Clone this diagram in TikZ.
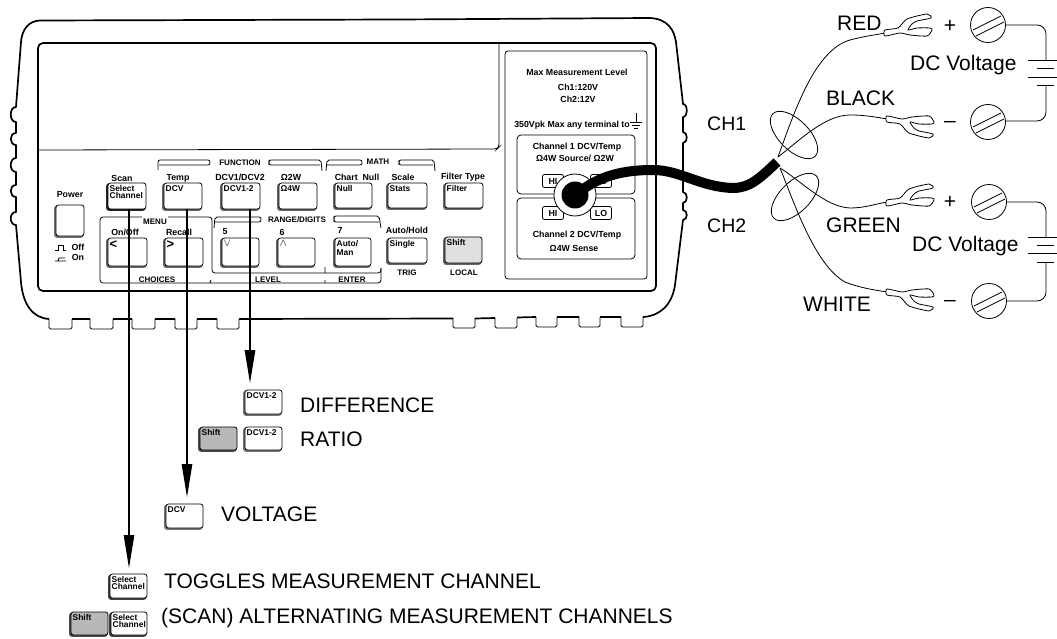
\documentclass[tikz,border=0pt]{standalone}
\usepackage{fontspec}
\setmainfont{Liberation Sans}
\usetikzlibrary{arrows.meta,calc}
\newcommand{\fs}[1]{\fontsize{#1}{#1}\selectfont}
\tikzset{
  big/.style={font=\fs{21},inner sep=0,anchor=west},
  chlab/.style={font=\fs{19.5},inner sep=0,anchor=west},
  sm/.style={font=\fs{8.8}\bfseries,inner sep=0,align=center},
  hd/.style={font=\fs{8}\bfseries,inner sep=0,align=center},
  heavy/.style={line width=1.7},
  thin1/.style={line width=.8},
  keyface/.style={draw=black,line width=.8,rounded corners=2.5,fill=white,inner sep=0},
  keytext/.style={inner sep=0,align=left,anchor=north west,font=\fs{8.4}\bfseries},
  jack/.style={draw=black,thin1,rounded corners=2,minimum width=21,minimum height=13,inner sep=0,sm},
  arr/.style={line width=1.1,-{Triangle[length=33,width=10.5]}},
  pics/lug/.style={code={\draw[thin1,fill=white] plot[smooth cycle,tension=.4] coordinates
    {(0,-3)(13,-5)(22,-14)(42,-19)(46,-15)(32,-12)(27,-9)(23,-3)(32,-5)(45,-5)(47,-3)(42,3)(25,2)(15,0)(0,3)};}},
  pics/screw/.style={code={\draw[thin1,fill=white] (0,0) circle[radius=17.5];
    \draw[thin1] (-15,5)--(13,-9) (-12,11)--(16,-3);}}
}
% name x1 y1 x2 y2 text shadow-fill face-fill text-style
\newcommand{\keycap}[9]{%
  \fill[#7,rounded corners=2.5] (#2-1.8,#3+.5) rectangle (#4-.5,#5+1.8);
  \node[keyface,fill=#8,minimum width={(#4-#2)*1pt},minimum height={(#5-#3)*1pt}] (#1) at ({(#2+#4)/2},{(#3+#5)/2}) {};
  \node[#9] (#1t) at (#2+1.5,#3+2) {#6};}
\begin{document}
\begin{tikzpicture}[x=1pt,y=-1pt]
\useasboundingbox (0,0) rectangle (1057,639);
\fill[white] (0,0) rectangle (1057,639);
% outer body
\draw[heavy,line join=round] (40,20.5) -- (400,19.5) -- (650,18) .. controls (668,19) and (674,30) .. (676,42)
 -- (683,104)
 .. controls (688,104) and (688,117) .. (683,117) -- (683,132)
 .. controls (688,132) and (688,143) .. (683,143) -- (683,192)
 .. controls (688,192) and (688,203) .. (683,203) -- (683,210)
 .. controls (688,210) and (688,220) .. (683,220) -- (675,285)
 .. controls (672,305) and (660,316) .. (643,317);
\draw[heavy,line join=round] (40,20.5) .. controls (28,21) and (22,30) .. (21,42) -- (16,107)
 .. controls (9,107) and (9,122) .. (16,122) -- (16,133)
 .. controls (9,133) and (9,145) .. (16,145) -- (16,158)
 .. controls (9,158) and (9,172) .. (16,172) -- (16,185)
 .. controls (9,185) and (9,197) .. (16,197) -- (16,212)
 .. controls (9,212) and (9,225) .. (16,225) -- (21,282)
 .. controls (23,305) and (33,318) .. (49,319);
% feet
\draw[heavy] (72,319)--(90,319) (113,319)--(132,319) (155,319)--(175,319) (197,319)--(217,319) (239,319)--(453,318.5)
 (475,318.5)--(495,318) (517,317.5)--(536,317) (557,317)--(579,317) (600,317)--(621,317);
\foreach \a/\b/\c in {49/72/329,90/113/329,132/155/329,175/197/329,217/239/329,453/475/328,495/517/328,536/557/327,579/600/327,621/643/327}
  \draw[thin1,rounded corners=1.5] (\a,\c-10)--(\a,\c)--(\b,\c)--(\b,\c-10);
% inner bezel
\draw[heavy,rounded corners=5] (38,43) rectangle (656,291);
\draw[thin1,rounded corners=3] (38,150) -- (497,149) -- (499,147) -- (499,43);
% right panel
\draw[thin1,rounded corners=3] (505,51) rectangle (647,279);
\node[sm] (t1) at (577,72) {Max Measurement Level};
\node[sm] (t2) at (578,87) {Ch1:120V};
\node[sm] (t3) at (578,99) {Ch2:12V};
\node[sm] (t4) at (572,125) {350Vpk Max any terminal to};
\draw[thin1] (636,113)--(636,122) (630,122)--(642,122) (632,125)--(640,125) (634,128)--(638,128);
\draw[thin1,rounded corners=4] (517,135) rectangle (635,194);
\draw[thin1,rounded corners=4] (517,198) rectangle (635,259);
\node[sm] (t5) at (577,147) {Channel 1 DCV/Temp};
\node[sm] (t6) at (575,158) {Ω4W Source/ Ω2W};
\node[sm] (t7) at (577,235) {Channel 2 DCV/Temp};
\node[sm] (t8) at (574,248) {Ω4W Sense};
\node[jack] (hi1) at (553,181) {HI};
\node[jack] (lo1) at (601,181) {LO};
\node[jack] (hi2) at (553,213) {HI};
\node[jack] (lo2) at (601,213) {LO};
% brackets
\draw[thin1,rounded corners=2] (158,170)--(158,160)--(210,160)--(210,165)--(159,165);
\draw[thin1,rounded corners=2] (269,165)--(269,160)--(321,160)--(322,171);
\draw[thin1,rounded corners=2] (269,160)--(269,165)--(320,165);
\draw[thin1,rounded corners=2] (326,171)--(327,160)--(362,160)--(362,165)--(327,165);
\draw[thin1,rounded corners=2] (399,165)--(399,160)--(434,160)--(435,171);
\draw[thin1,rounded corners=2] (399,160)--(399,165)--(433,165);
\draw[thin1,rounded corners=2] (214,228)--(215,217)--(261,217)--(261,222)--(215,222);
\draw[thin1,rounded corners=2] (334,222)--(334,216)--(379,216)--(381,228);
\draw[thin1,rounded corners=2] (334,216)--(334,222)--(379,222);
\node[hd] (fn) at (240,163) {FUNCTION};
\node[hd] (mt) at (378,162) {MATH};
\node[hd] (rd) at (297,220) {RANGE/DIGITS};
\node[hd] (mn) at (155,222) {MENU};
\node[hd] (ch) at (157,280) {CHOICES};
\node[hd] (lv) at (268,280) {LEVEL};
\node[hd] (en) at (352,280) {ENTER};
\node[hd] (tr) at (407,273) {TRIG};
\node[hd] (lc) at (464,273) {LOCAL};
% menu frames
\draw[thin1,rounded corners=3] (142,217)--(100,217)--(100,283)--(381,283)--(381,268);
\draw[thin1,rounded corners=3] (168,217)--(212,217)--(212,273)--(381,273)--(381,268);
\draw[thin1] (210,283)--(211,280) (325,283)--(325,280) (325,273)--(325,267);
% button captions
\node[sm] (c1) at (122,178) {Scan};
\node[sm] (c2) at (178,178) {Temp};
\node[sm] (c3) at (240,177) {DCV1/DCV2};
\node[sm] (c4) at (291,177) {Ω2W};
\node[sm] (c5) at (357,177) {Chart\ \ Null};
\node[sm] (c6) at (403,177) {Scale};
\node[sm] (c7) at (463,177) {Filter Type};
\node[sm] (c8) at (70,195) {Power};
\node[sm] (c9) at (125,232) {On/Off};
\node[sm] (c10) at (179,232) {Recall};
\node[sm] (c11) at (225,232) {5};
\node[sm] (c12) at (282,232) {6};
\node[sm] (c13) at (340,230) {7};
\node[sm] (c14) at (407,230) {Auto/Hold};
\node[sm] (c15) at (78,247) {Off};
\node[sm] (c16) at (78,257) {On};
\draw[thin1] (55,250)--(58,250)--(58,245)--(63,245)--(63,250)--(66,250);
\draw[thin1] (55,261)--(66,261) (58,261)--(59,258)--(65,258);
% front keys
\keycap{kPow}{56}{205}{84}{236}{}{black!55}{white}{keytext}
\keycap{kSel}{108}{183}{146}{209}{Select\\[-1pt]Channel}{black!85}{white}{keytext}
\keycap{kDcv}{164}{183}{202}{209}{DCV}{black!60}{white}{keytext}
\keycap{kDif}{222}{183}{260}{209}{DCV1-2}{black!60}{white}{keytext}
\keycap{kOhm}{279}{183}{317}{209}{Ω4W}{black!60}{white}{keytext}
\keycap{kNul}{335}{183}{372}{208}{Null}{black!60}{white}{keytext}
\keycap{kSta}{388}{183}{427}{208}{Stats}{black!60}{white}{keytext}
\keycap{kFil}{445}{183}{483}{208}{Filter}{black!60}{white}{keytext}
\keycap{kLe}{108}{238}{147}{266}{\fs{13}<}{black!60}{white}{keytext}
\keycap{kGr}{165}{238}{203}{266}{\fs{13}>}{black!60}{white}{keytext}
\keycap{kDn}{222}{238}{259}{266}{\fs{11}$\vee$}{black!60}{white}{keytext}
\keycap{kUp}{278}{238}{315}{266}{\fs{11}$\wedge$}{black!60}{white}{keytext}
\keycap{kAut}{335}{238}{371}{266}{Auto/\\[1pt]Man}{black!60}{white}{keytext}
\keycap{kSin}{388}{238}{427}{263}{Single}{black!60}{white}{keytext}
\keycap{kShi}{445}{237}{482}{263}{Shift}{black!60}{black!12}{keytext}
% bottom keys
\keycap{sDif}{245}{390}{282}{414}{DCV1-2}{black!55}{white}{keytext}
\keycap{sRat}{245}{427}{282}{450}{DCV1-2}{black!55}{white}{keytext}
\keycap{sShi}{200}{427}{237}{450}{Shift}{black!70}{black!28}{keytext}
\keycap{sDcv}{166}{504}{203}{528}{DCV}{black!55}{white}{keytext}
\keycap{sTog}{110}{574}{147}{598}{Select\\[-1pt]Channel}{black!75}{white}{keytext}
\keycap{sSca}{111}{612}{147}{635}{Select\\[-1pt]Channel}{black!75}{white}{keytext}
\keycap{sSh2}{71}{612}{108}{635}{Shift}{black!70}{black!28}{keytext}
% arrows
\coordinate (tip1) at (129,568);
\coordinate (tip2) at (187,497);
\coordinate (tip3) at (250,383);
\draw[arr] (kSel.south -| tip1) -- (tip1);
\draw[arr] (kDcv.south -| tip2) -- (tip2);
\draw[arr] (kDif.south -| tip3) -- (tip3);
% bottom labels
\node[big] (l1) at (300,405) {DIFFERENCE};
\node[big] (l2) at (300,439) {RATIO};
\node[big] (l3) at (221,514) {VOLTAGE};
\node[big] (l4) at (164,581) {TOGGLES MEASUREMENT CHANNEL};
\node[big] (l5) at (161,618) {(SCAN) ALTERNATING MEASUREMENT CHANNELS};
% wiring
\draw[thin1] (778,157) .. controls (795,110) and (815,50) .. (850,40) .. controls (865,36) and (875,35) .. (885,33);
\draw[thin1] (778,157) .. controls (800,140) and (825,115) .. (850,115) .. controls (865,115) and (875,117) .. (887,119);
\draw[thin1] (780,168) .. controls (800,180) and (825,207) .. (850,208) .. controls (865,208) and (875,204) .. (887,202);
\draw[thin1] (780,168) .. controls (795,205) and (815,265) .. (845,282) .. controls (860,288) and (875,290) .. (887,292);
\draw[thin1,rotate around={-45:(794,135)}] (794,135) ellipse [x radius=30,y radius=15];
\draw[thin1,rotate around={45:(795,197)}] (795,197) ellipse [x radius=30,y radius=15];
% connector and cable
\draw[thin1,fill=white] (575,195) circle[radius=21];
\fill (575,195) circle[radius=13.5];
\draw[line width=10] (578,193) .. controls (600,175) and (625,170) .. (653,170) .. controls (680,170) and (700,187) .. (733,188) .. controls (750,188) and (760,178) .. (777,162);
% lugs
\pic at (885,33) {lug};
\pic[yscale=-1] at (887,119) {lug};
\pic at (887,203) {lug};
\pic[yscale=-1] at (887,292) {lug};
% screws
\pic at (988,25) {screw};
\pic at (988,122) {screw};
\pic at (989,202) {screw};
\pic at (989,301) {screw};
% batteries
\draw[thin1,rounded corners=9] (1005,25)--(1046,25)--(1046,60);
\draw[thin1,rounded corners=9] (1046,85)--(1046,121)--(1005,121);
\draw[line width=.9] (1028,60)--(1057,60) (1037,68)--(1054,68) (1028,77)--(1057,77) (1037,85)--(1054,85);
\draw[thin1,rounded corners=9] (1006,202)--(1046,202)--(1046,237);
\draw[thin1,rounded corners=9] (1046,262)--(1046,301)--(1006,301);
\draw[line width=.9] (1028,237)--(1057,237) (1037,245)--(1054,245) (1028,253)--(1057,253) (1037,262)--(1054,262);
% wire labels
\node[big] (r1) at (837,23) {RED};
\node[big] (r2) at (826,98) {BLACK};
\node[big] (r3) at (826,225) {GREEN};
\node[big] (r4) at (803,304) {WHITE};
\node[big] (v1) at (910,65) {DC Voltage};
\node[big] (v2) at (912,246) {DC Voltage};
\node[chlab] (ch1) at (707,124) {CH1};
\node[chlab] (ch2) at (707,226) {CH2};
\node[big,anchor=center] (p1) at (950,26) {+};
\node[big,anchor=center] (m1) at (950,124) {–};
\node[big,anchor=center] (p2) at (950,202) {+};
\node[big,anchor=center] (m2) at (950,303) {–};
\end{tikzpicture}
\end{document}
